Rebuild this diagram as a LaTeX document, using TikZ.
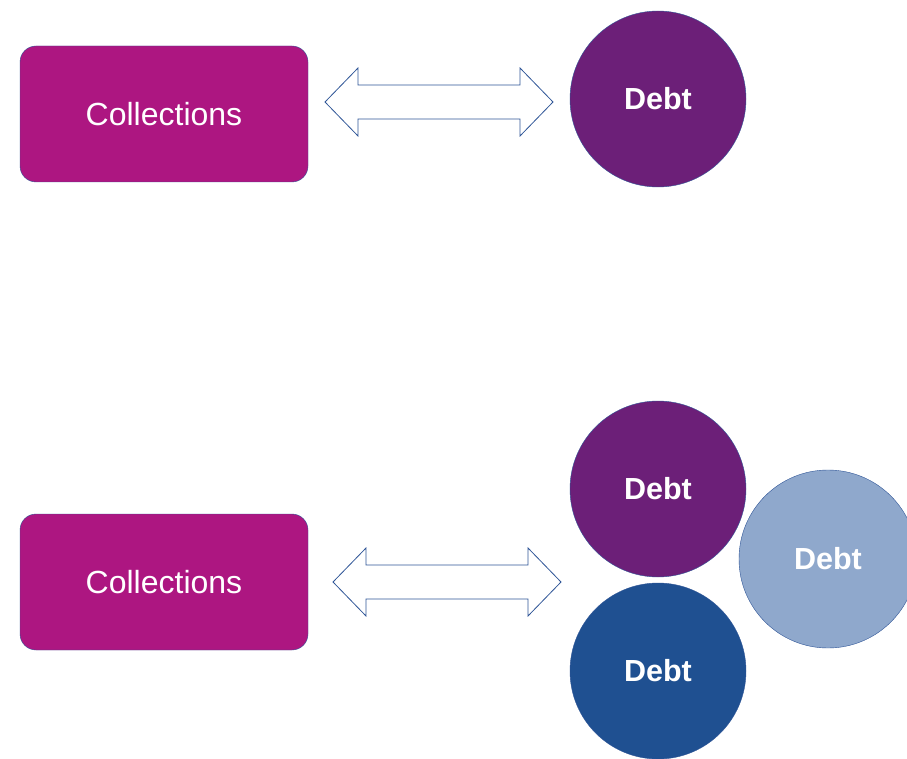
\documentclass[tikz,border=0pt]{standalone}
\usepackage{fontspec}
\setmainfont{Liberation Sans}
\definecolor{plum}{RGB}{173,22,129}
\definecolor{grape}{RGB}{108,31,120}
\definecolor{navy}{RGB}{31,80,145}
\definecolor{sky}{RGB}{143,168,204}
\definecolor{edge}{RGB}{47,85,151}
\newcommand{\dbl}[3]{% left tip, right tip, height
  \draw[arrowbox] (#1,#3) -- (#1+33,#3-34) -- (#1+33,#3-17) -- (#2-33,#3-17) -- (#2-33,#3-34)
    -- (#2,#3) -- (#2-33,#3+34) -- (#2-33,#3+17) -- (#1+33,#3+17) -- (#1+33,#3+34) -- cycle;}

\begin{document}
\begin{tikzpicture}[x=1pt, y=-1pt,
    box/.style={draw=edge, fill=plum, rounded corners=16pt, minimum width=288pt, minimum height=136pt, inner sep=0pt, text=white, font=\fontsize{32}{38}\selectfont},
    ball/.style={draw=edge, circle, minimum size=176pt, inner sep=0pt, text=white, font=\fontsize{30.5}{36}\selectfont\bfseries},
    arrowbox/.style={draw=edge, fill=white, line width=0.8pt, line join=miter}]
    \useasboundingbox (0,0) rectangle (907,759);

    % First row
    \node[box] (coll-1) at (164,114) {Collections};
    \node[ball, fill=grape] (debt-1) at (658,99) {Debt};
    \dbl{325}{553}{102}

    % Second row
    \node[box] (coll-2) at (164,582) {Collections};
    \node[ball, fill=sky, minimum size=178pt] (debt-4) at (828,559) {Debt};
    \node[ball, fill=grape] (debt-2) at (658,489) {Debt};
    \node[ball, fill=navy] (debt-3) at (658,671) {Debt};
    \dbl{333}{561}{582}

\end{tikzpicture}
\end{document}
